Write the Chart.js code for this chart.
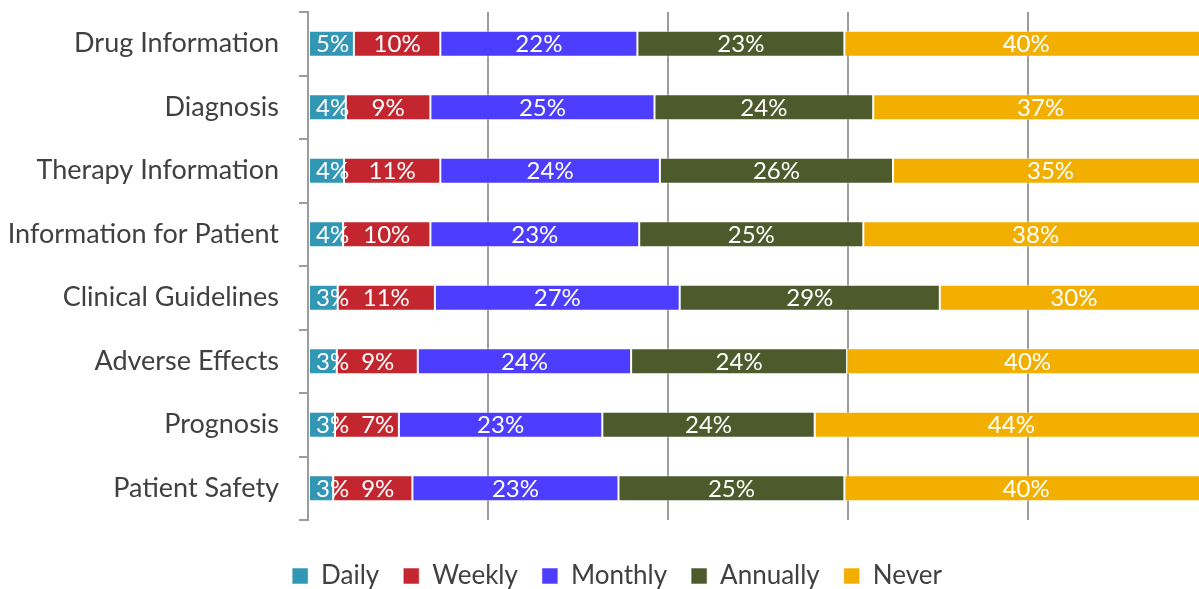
<!DOCTYPE html>
<html><head><meta charset="utf-8">
<script src="https://cdn.jsdelivr.net/npm/chart.js@4.4.1/dist/chart.umd.min.js"></script>
<style>html,body{margin:0;padding:0;background:#fff;overflow:hidden;}</style>
</head><body>
<canvas id="c" width="1199" height="589"></canvas>
<script>
const categories = ['Drug Information','Diagnosis','Therapy Information','Information for Patient','Clinical Guidelines','Adverse Effects','Prognosis','Patient Safety'];
const seriesNames = ['Daily','Weekly','Monthly','Annually','Never'];
const daily    = [5.1, 4.2, 4.0, 3.9, 3.3, 3.2, 3.0, 2.8];
const weekly   = [9.6, 9.4, 10.7, 9.7, 10.8, 9.0, 7.1, 8.8];
const monthly  = [21.9, 24.9, 24.4, 23.2, 27.2, 23.7, 22.6, 22.9];
const annually = [23.0, 24.3, 25.9, 24.9, 28.9, 24.0, 23.6, 25.1];
const never    = [40.4, 37.2, 35.0, 38.3, 29.8, 40.1, 43.7, 40.4];
const xTickValues = [0, 20, 40, 60, 80];
const colors = ['#3197B5', '#C4262F', '#4D3DFF', '#4D5A2B', '#F2AF00'];

const FONT = 'Lato';
const TEXT = '#404040';
const GRID = '#9C9C9C';
const PAD_RIGHT = -35;
const AXIS_LEFT = 308;
const AREA_BOTTOM = 520;

const segLabels = {
  id: 'segLabels',
  afterDatasetsDraw(chart) {
    const ctx = chart.ctx;
    ctx.save();
    ctx.font = '24px ' + FONT;
    ctx.fillStyle = '#ffffff';
    ctx.textAlign = 'center';
    ctx.textBaseline = 'middle';
    const n = chart.data.labels.length;
    for (let j = 0; j < n; j++) {
      let prevEnd = -Infinity;
      chart.data.datasets.forEach((ds, i) => {
        const el = chart.getDatasetMeta(i).data[j];
        const txt = Math.round(ds.data[j]) + '%';
        const p = el.getProps(['x', 'base', 'y'], true);
        const start = Math.min(p.x, p.base);
        const w = ctx.measureText(txt).width;
        let cx = (p.x + p.base) / 2;
        cx = Math.max(cx, start + w / 2 + 7, prevEnd + 12 + w / 2);
        ctx.fillText(txt, cx, p.y + 1);
        prevEnd = cx + w / 2;
      });
    }
    ctx.restore();
  }
};

const seriesData = [daily, weekly, monthly, annually, never];
new Chart(document.getElementById('c'), {
  type: 'bar',
  data: {
    labels: categories,
    datasets: seriesNames.map((n, i) => ({
      label: n,
      data: seriesData[i],
      backgroundColor: colors[i],
      borderColor: 'rgba(255,255,255,0.55)',
      borderWidth: 1,
      borderSkipped: false,
      barPercentage: 0.41,
      categoryPercentage: 1
    }))
  },
  options: {
    indexAxis: 'y',
    responsive: false,
    animation: false,
    layout: { padding: { left: 0, right: PAD_RIGHT, top: 12, bottom: 0 } },
    scales: {
      x: {
        stacked: true,
        min: 0,
        max: (1199 - AXIS_LEFT) / 9,
        ticks: { display: false, stepSize: 20, includeBounds: false },
        afterBuildTicks(scale) { scale.ticks = xTickValues.map(v => ({ value: v })); },
        afterFit(scale) {
          const lg = scale.chart.legend ? scale.chart.legend.height : 0;
          scale.height = 589 - AREA_BOTTOM - lg;
          scale.paddingLeft = 0; scale.paddingRight = 0;
        },
        grid: {
          drawTicks: false,
          color: (c) => c.tick && c.tick.value === 0 ? 'rgba(0,0,0,0)' : GRID,
          lineWidth: 2
        },
        border: { display: false }
      },
      y: {
        stacked: true,
        afterFit(scale) {
          scale.width = AXIS_LEFT;
          scale.paddingTop = 0; scale.paddingBottom = 0;
        },
        ticks: { color: TEXT, font: { family: FONT, size: 27 }, padding: 20 },
        grid: { offset: true, drawOnChartArea: false, drawTicks: true, tickLength: 9, color: GRID, lineWidth: 2 },
        border: { display: true, color: GRID, width: 2 }
      }
    },
    plugins: {
      legend: {
        position: 'bottom',
        maxHeight: 50,
        labels: { color: TEXT, font: { family: FONT, size: 26 }, boxWidth: 16, boxHeight: 16, padding: 24 }
      },
      tooltip: { enabled: false }
    }
  },
  plugins: [segLabels]
});
</script>
</body></html>
